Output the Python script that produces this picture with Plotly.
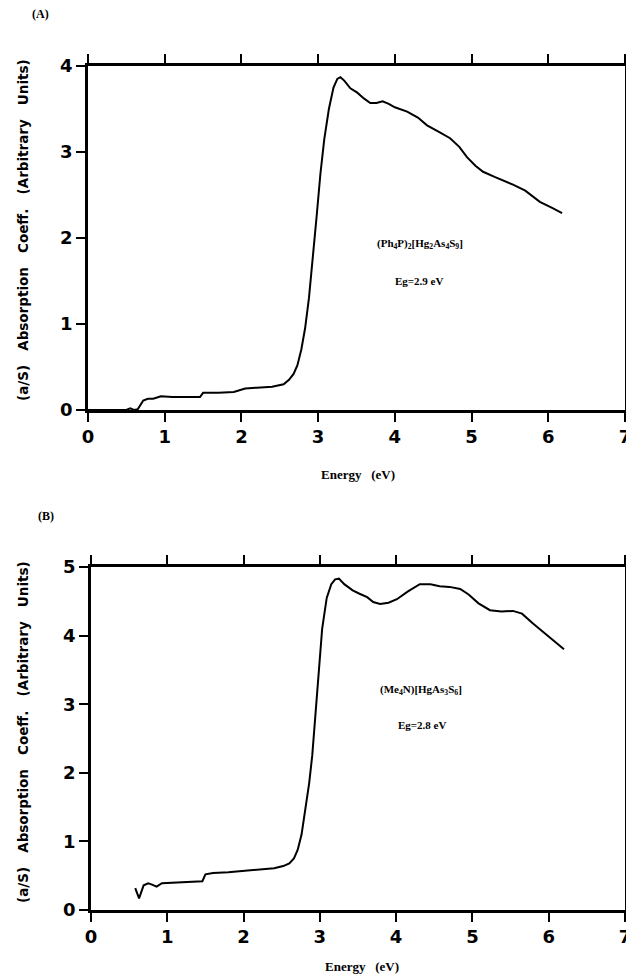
import plotly.graph_objects as go

# panel A: (Ph4P)2[Hg2As4S9]
energy_a = [0, 0.5, 0.55, 0.6, 0.65, 0.72, 0.78, 0.85, 0.95, 1.1, 1.3, 1.46, 1.5, 1.7, 1.9, 2.05,
            2.2, 2.4, 2.55, 2.62, 2.68, 2.73, 2.78, 2.83, 2.88, 2.93, 2.98, 3.03, 3.08, 3.14, 3.2,
            3.25, 3.29, 3.34, 3.42, 3.51, 3.6, 3.68, 3.76, 3.84, 3.92, 4.0, 4.16, 4.3, 4.42, 4.58,
            4.72, 4.84, 4.94, 5.05, 5.15, 5.3, 5.54, 5.7, 5.89, 6.05, 6.18]
absorb_a = [0, 0, 0.02, 0, 0.01, 0.11, 0.13, 0.13, 0.16, 0.15, 0.15, 0.15, 0.2, 0.2, 0.21, 0.25,
            0.26, 0.27, 0.3, 0.35, 0.42, 0.52, 0.7, 0.95, 1.3, 1.75, 2.25, 2.75, 3.15, 3.5, 3.75,
            3.85, 3.87, 3.83, 3.74, 3.69, 3.62, 3.57, 3.57, 3.59, 3.56, 3.52, 3.47, 3.40, 3.31, 3.23,
            3.16, 3.06, 2.94, 2.84, 2.77, 2.71, 2.62, 2.55, 2.42, 2.35, 2.29]

# panel B: (Me4N)[HgAs3S6]
energy_b = [0.58, 0.63, 0.69, 0.75, 0.8, 0.86, 0.93, 1.1, 1.3, 1.46, 1.5, 1.6, 1.8, 2.0, 2.2, 2.4,
            2.52, 2.6, 2.66, 2.71, 2.76, 2.81, 2.86, 2.9, 2.94, 2.98, 3.03, 3.09, 3.15, 3.2, 3.25,
            3.32, 3.43, 3.52, 3.62, 3.7, 3.79, 3.9, 4.01, 4.15, 4.31, 4.45, 4.57, 4.7, 4.84, 4.95,
            5.08, 5.23, 5.38, 5.53, 5.65, 5.79, 5.95, 6.08, 6.2]
absorb_b = [0.32, 0.17, 0.36, 0.39, 0.37, 0.34, 0.39, 0.4, 0.41, 0.42, 0.52, 0.54, 0.55, 0.57, 0.59,
            0.61, 0.64, 0.68, 0.75, 0.88, 1.1, 1.45, 1.85, 2.25, 2.85, 3.4, 4.1, 4.55, 4.75, 4.82,
            4.83, 4.75, 4.66, 4.61, 4.56, 4.49, 4.46, 4.48, 4.53, 4.64, 4.75, 4.75, 4.72, 4.71, 4.68,
            4.6, 4.47, 4.37, 4.35, 4.36, 4.32, 4.18, 4.03, 3.9, 3.80]

x_ticks = [0, 1, 2, 3, 4, 5, 6, 7]

W, H = 634, 978
OFF = 8  # page body margin
serif = dict(family="Liberation Serif", color="black", weight="bold")
sans = dict(family="DejaVu Sans", color="black", weight="bold")
tickfont = dict(family="DejaVu Sans", size=18, color="black", weight="bold")

def px(x): return (x - OFF) / W
def py(y): return 1 - (y - OFF) / H

fig = go.Figure()
fig.add_scatter(x=energy_a, y=absorb_a, mode="lines", line=dict(color="black", width=2),
                xaxis="x", yaxis="y")
fig.add_scatter(x=energy_b, y=absorb_b, mode="lines", line=dict(color="black", width=2),
                xaxis="x2", yaxis="y2")

ax = dict(showgrid=False, zeroline=False, showline=True, linecolor="black", linewidth=2.5,
          mirror="ticks", ticks="outside", ticklen=9, tickwidth=1.5, tickcolor="black",
          tickfont=tickfont, automargin=False)

fig.update_layout(
    width=W, height=H, margin=dict(l=0, r=0, t=0, b=0),
    paper_bgcolor="white", plot_bgcolor="white", showlegend=False,
    xaxis=dict(ax, domain=[px(88), px(625)], range=[0, 7], tickvals=x_ticks, anchor="y"),
    yaxis=dict(ax, domain=[py(410), py(66)], range=[0, 4], tickvals=[0, 1, 2, 3, 4], anchor="x"),
    xaxis2=dict(ax, domain=[px(91), px(625)], range=[0, 7], tickvals=x_ticks, anchor="y2"),
    yaxis2=dict(ax, domain=[py(910), py(567)], range=[0, 5], tickvals=[0, 1, 2, 3, 4, 5], anchor="x2"),
)

gap = "&nbsp;" * 3
ytitle = gap.join(["(a/S)", "Absorption", "Coeff.", "(Arbitrary", "Units)"])
xtitle = "Energy&nbsp;&nbsp;&nbsp;(eV)"
notes = [
    ("(A)", 40, 14, 12, serif, 0),
    ("(B)", 46, 516, 12, serif, 0),
    (xtitle, 358, 474, 13, serif, 0),
    (xtitle, 362, 966, 13, serif, 0),
    (ytitle, 23, 230, 13.5, sans, -90),
    (ytitle, 23, 732, 13.5, sans, -90),
    ("(Ph<sub>4</sub>P)<sub>2</sub>[Hg<sub>2</sub>As<sub>4</sub>S<sub>9</sub>]", 420, 244, 11, serif, 0),
    ("Eg=2.9 eV", 419, 281, 11, serif, 0),
    ("(Me<sub>4</sub>N)[HgAs<sub>3</sub>S<sub>6</sub>]", 421, 690, 11, serif, 0),
    ("Eg=2.8 eV", 422, 725, 11, serif, 0),
]
for text, x, y, size, fam, ang in notes:
    fig.add_annotation(text=text, x=px(x), y=py(y), xref="paper", yref="paper",
                       showarrow=False, textangle=ang, xanchor="center", yanchor="middle",
                       font=dict(fam, size=size))

fig.write_html("out.html")
